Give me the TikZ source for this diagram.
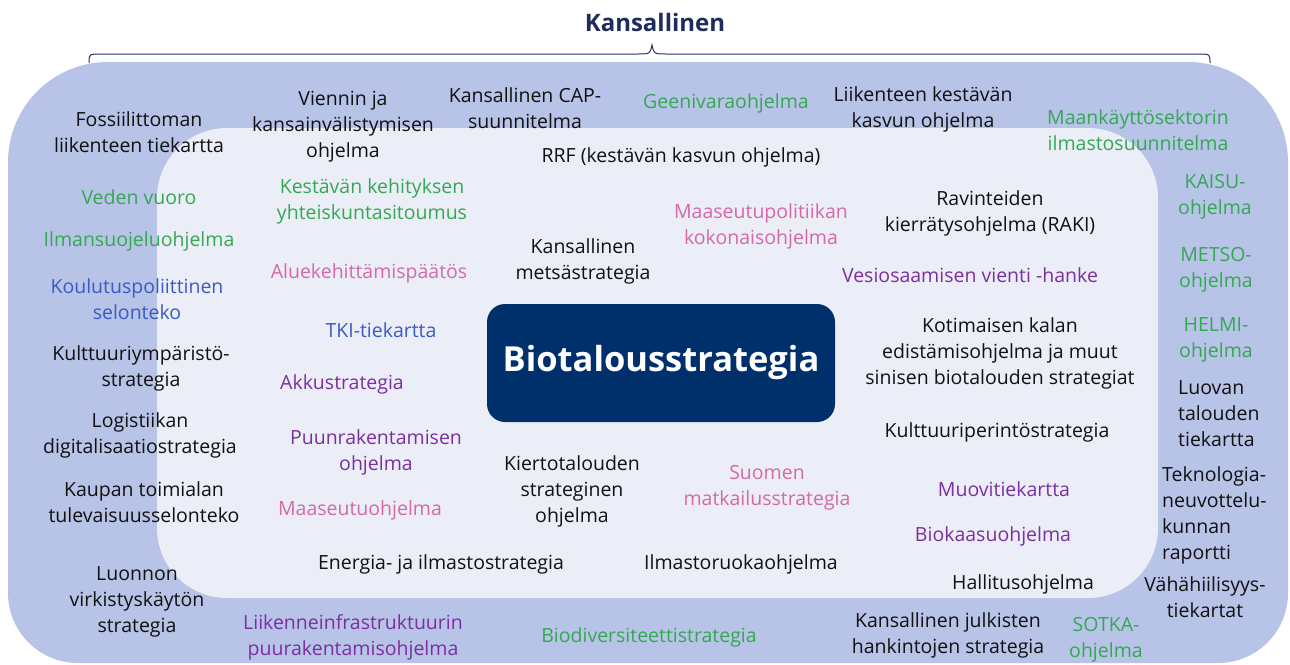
\documentclass[tikz,border=0pt]{standalone}
\usepackage{fontspec}
\setmainfont{Open Sans}
\definecolor{outerfill}{HTML}{B7C3E7}
\definecolor{innerfill}{HTML}{EBEEF7}
\definecolor{navybox}{HTML}{00306B}
\definecolor{navyline}{HTML}{2B2D5E}
\definecolor{titlecol}{HTML}{1F2D5C}
\definecolor{cgreen}{HTML}{34A853}
\definecolor{cpink}{HTML}{D668A8}
\definecolor{cpurple}{HTML}{7B2FA0}
\definecolor{cblue}{HTML}{3A5BC7}
\definecolor{cblack}{HTML}{111111}
\begin{document}
\begin{tikzpicture}[x=1pt,y=-1pt,
  lbl/.style={align=center, inner sep=0pt, yshift=-2.5pt, font=\fontsize{19.5}{26}\selectfont},
  bk/.style={lbl, text=cblack},
  gr/.style={lbl, text=cgreen},
  pk/.style={lbl, text=cpink},
  pu/.style={lbl, text=cpurple},
  bl/.style={lbl, text=cblue},
  lft/.style={align=left, anchor=west}]
\useasboundingbox (0,0) rectangle (1290,664);
% shapes
\fill[outerfill] (8,360) [rounded corners=70pt] |- (650,663) -| (1288,360)
   [rounded corners=100pt] |- (650,62) -| (8,360) -- cycle;
\fill[innerfill, rounded corners=70pt] (157,128) rectangle (1158,598);
% brace
\coordinate (bl0) at (89,63);
\coordinate (br0) at (1210,63);
\coordinate (btip) at (652,45);
\draw[navyline, line width=1pt] (bl0) .. controls (89,54) .. (101,54) -- (638,54)
  .. controls (650,54) .. (btip) .. controls (654,54) .. (666,54) -- (1198,54)
  .. controls (1210,54) .. (br0);
\node[text=titlecol, font=\fontsize{24}{28}\selectfont\bfseries, inner sep=0pt] (title) at (655,22) {Kansallinen};
% centre
\node[fill=navybox, rounded corners=18pt, minimum width=348pt, minimum height=118pt,
  text=white, font=\fontsize{34.5}{40}\selectfont\bfseries] (bio) at (661,363) {Biotalousstrategia};
% labels
\node[bk] (n1) at (139,130) {Fossiilittoman\\liikenteen tiekartta};
\node[bk] (n2) at (343,124) {Viennin ja\\kansainvälistymisen\\ohjelma};
\node[bk] (n3) at (525,106) {Kansallinen CAP-\\suunnitelma};
\node[gr] (n4) at (726,101) {Geenivaraohjelma};
\node[bk] (n5) at (923,107) {Liikenteen kestävän\\kasvun ohjelma};
\node[gr] (n6) at (1138,128) {Maankäyttösektorin\\ilmastosuunnitelma};
\node[bk] (n7) at (681,155) {RRF (kestävän kasvun ohjelma)};
\node[gr] (n8) at (139,195) {Veden vuoro};
\node[gr] (n9) at (372,199) {Kestävän kehityksen\\yhteiskuntasitoumus};
\node[pk] (n10) at (761,224) {Maaseutupolitiikan\\kokonaisohjelma};
\node[bk] (n11) at (990,211) {Ravinteiden\\kierrätysohjelma (RAKI)};
\node[gr] (n12) at (1215,194) {KAISU-\\ohjelma};
\node[gr] (n13) at (139,239) {Ilmansuojeluohjelma};
\node[bk] (n14) at (583,259) {Kansallinen\\metsästrategia};
\node[pk] (n15) at (369,271) {Aluekehittämispäätös};
\node[pu] (n16) at (970,273) {Vesiosaamisen vienti -hanke};
\node[gr] (n17) at (1216,267) {METSO-\\ohjelma};
\node[bl] (n18) at (137,297) {Koulutuspoliittinen\\selonteko};
\node[bl] (n19) at (381,328) {TKI-tiekartta};
\node[bk] (n20) at (1000,351) {Kotimaisen kalan\\edistämisohjelma ja muut\\sinisen biotalouden strategiat};
\node[gr] (n21) at (1216,337) {HELMI-\\ohjelma};
\node[bk] (n22) at (141,366) {Kulttuuriympäristö-\\strategia};
\node[pu] (n23) at (342,382) {Akkustrategia};
\node[bk, lft] (n24) at (1178,411) {Luovan\\talouden\\tiekartta};
\node[bk] (n25) at (140,433) {Logistiikan\\digitalisaatiostrategia};
\node[bk] (n26) at (997,430) {Kulttuuriperintöstrategia};
\node[pu] (n27) at (376,450) {Puunrakentamisen\\ohjelma};
\node[bk] (n28) at (572,489) {Kiertotalouden\\strateginen\\ohjelma};
\node[pk] (n29) at (767,485) {Suomen\\matkailusstrategia};
\node[pu] (n30) at (1004,487) {Muovitiekartta};
\node[bk, lft] (n31) at (1162,513) {Teknologia-\\neuvottelu-\\kunnan\\raportti};
\node[bk] (n32) at (144,500) {Kaupan toimialan\\tulevaisuusselonteko};
\node[pk] (n33) at (360,508) {Maaseutuohjelma};
\node[pu] (n34) at (993,534) {Biokaasuohjelma};
\node[bk] (n35) at (441,562) {Energia- ja ilmastostrategia};
\node[bk] (n36) at (741,562) {Ilmastoruokaohjelma};
\node[bk] (n37) at (1023,582) {Hallitusohjelma};
\node[bk] (n38) at (1205,595) {Vähähiilisyys-\\tiekartat};
\node[bk] (n39) at (137,599) {Luonnon\\virkistyskäytön\\strategia};
\node[pu] (n40) at (353,635) {Liikenneinfrastruktuurin\\puurakentamisohjelma};
\node[gr] (n41) at (649,635) {Biodiversiteettistrategia};
\node[bk] (n42) at (948,633) {Kansallinen julkisten\\hankintojen strategia};
\node[gr] (n43) at (1106,637) {SOTKA-\\ohjelma};
\end{tikzpicture}
\end{document}
